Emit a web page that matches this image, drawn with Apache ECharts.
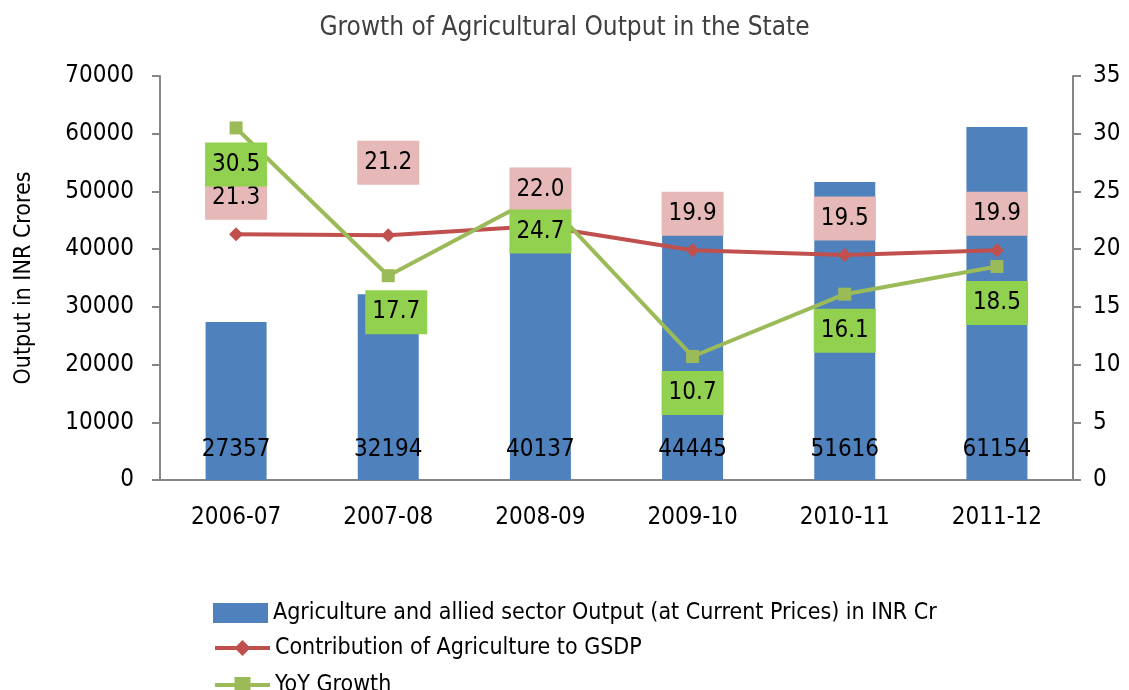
<!DOCTYPE html>
<html>
<head>
<meta charset="utf-8">
<script src="https://cdn.jsdelivr.net/npm/echarts@6/dist/echarts.min.js"></script>
<style>
  html, body { margin: 0; padding: 0; background: #fff; }
  #chart { width: 1129px; height: 690px; }
</style>
</head>
<body>
<div id="chart"></div>
<script>
const years = ['2006-07', '2007-08', '2008-09', '2009-10', '2010-11', '2011-12']
const output = [27357, 32194, 40137, 44445, 51616, 61154]
const contribution = [21.3, 21.2, 22.0, 19.9, 19.5, 19.9]
const yoyGrowth = [30.5, 17.7, 24.7, 10.7, 16.1, 18.5]

const FONT = '"Liberation Sans Narrow", "DejaVu Sans Condensed", sans-serif'
const axisColor = '#868686'
const barName = 'Agriculture and allied sector Output (at Current Prices) in INR Cr'
const redName = 'Contribution of Agriculture to GSDP'
const greenName = 'YoY Growth'

const chart = echarts.init(document.getElementById('chart'))

// labels drawn by separate invisible series so they sit above every line
const redLabels = contribution.map((v, i) => i === 1 ? { value: v, label: { offset: [0, -36] } } : v)
const greenLabels = yoyGrowth.map((v, i) => i === 1 ? { value: v, label: { offset: [8, 0] } } : v)

function boxLabel(pos, bg) {
  return {
    show: true,
    position: pos,
    distance: 14,
    fontFamily: FONT,
    fontSize: 24,
    lineHeight: 24,
    color: '#000',
    backgroundColor: bg,
    width: 50,
    align: 'center',
    padding: [10, 6, 10, 6],
    formatter: p => p.value.toFixed(1)
  }
}

function legendAt(top, item) {
  return {
    orient: 'vertical',
    left: 208,
    top: top,
    itemWidth: 55,
    itemHeight: 20,
    textStyle: { fontFamily: FONT, fontSize: 23, lineHeight: 26, color: '#000' },
    data: [item]
  }
}

const option = {
  animation: false,
  textStyle: { fontFamily: FONT },
  title: {
    text: 'Growth of Agricultural Output in the State',
    left: 'center',
    top: 10,
    textStyle: { fontFamily: FONT, fontSize: 26, fontWeight: 'normal', color: '#404040' }
  },
  grid: { left: 160, right: 56, top: 76, bottom: 210 },
  legend: [
    legendAt(595, { name: barName, icon: 'rect' }),
    legendAt(630, { name: redName, lineStyle: { width: 4 } }),
    legendAt(667, { name: greenName, lineStyle: { width: 4 } })
  ],
  xAxis: {
    type: 'category',
    data: years,
    axisLine: { lineStyle: { color: axisColor, width: 2 } },
    axisTick: { length: 8, lineStyle: { color: axisColor, width: 2 } },
    axisLabel: { fontFamily: FONT, fontSize: 24, color: '#000', margin: 26 }
  },
  yAxis: [
    {
      type: 'value',
      min: 0,
      max: 70000,
      interval: 10000,
      name: 'Output in INR Crores',
      nameLocation: 'middle',
      nameGap: 124,
      nameTextStyle: { fontFamily: FONT, fontSize: 23, color: '#000' },
      splitLine: { show: false },
      axisLine: { show: true, lineStyle: { color: axisColor, width: 2 } },
      axisTick: { show: true, length: 8, lineStyle: { color: axisColor, width: 2 } },
      axisLabel: { fontFamily: FONT, fontSize: 24, color: '#000', margin: 26, formatter: v => String(v) }
    },
    {
      type: 'value',
      min: 0,
      max: 35,
      interval: 5,
      splitLine: { show: false },
      axisLine: { show: true, lineStyle: { color: axisColor, width: 2 } },
      axisTick: { show: true, length: 8, lineStyle: { color: axisColor, width: 2 } },
      axisLabel: { fontFamily: FONT, fontSize: 24, color: '#000', margin: 20 }
    }
  ],
  series: [
    {
      name: barName,
      type: 'bar',
      data: output,
      barWidth: 61,
      itemStyle: { color: '#4F81BD' },
      label: {
        show: true,
        position: 'insideBottom',
        distance: 18,
        fontFamily: FONT,
        fontSize: 24,
        color: '#000'
      },
      z: 1
    },
    {
      name: redName,
      type: 'line',
      yAxisIndex: 1,
      data: contribution,
      symbol: 'diamond',
      symbolSize: 14,
      lineStyle: { color: '#C0504D', width: 4 },
      itemStyle: { color: '#C0504D' },
      z: 2
    },
    {
      name: greenName,
      type: 'line',
      yAxisIndex: 1,
      data: yoyGrowth,
      symbol: 'rect',
      symbolSize: 13,
      lineStyle: { color: '#9BBB59', width: 4 },
      itemStyle: { color: '#9BBB59' },
      z: 3
    },
    {
      name: 'redLabels',
      type: 'line',
      yAxisIndex: 1,
      data: redLabels,
      symbol: 'circle',
      symbolSize: 1,
      itemStyle: { color: 'rgba(0,0,0,0)' },
      lineStyle: { width: 0, color: 'rgba(0,0,0,0)' },
      label: boxLabel('top', '#E6B9B8'),
      silent: true,
      z: 5
    },
    {
      name: 'greenLabels',
      type: 'line',
      yAxisIndex: 1,
      data: greenLabels,
      symbol: 'circle',
      symbolSize: 1,
      itemStyle: { color: 'rgba(0,0,0,0)' },
      lineStyle: { width: 0, color: 'rgba(0,0,0,0)' },
      label: boxLabel('bottom', '#92D050'),
      silent: true,
      z: 6
    }
  ]
}

chart.setOption(option)
</script>
</body>
</html>
